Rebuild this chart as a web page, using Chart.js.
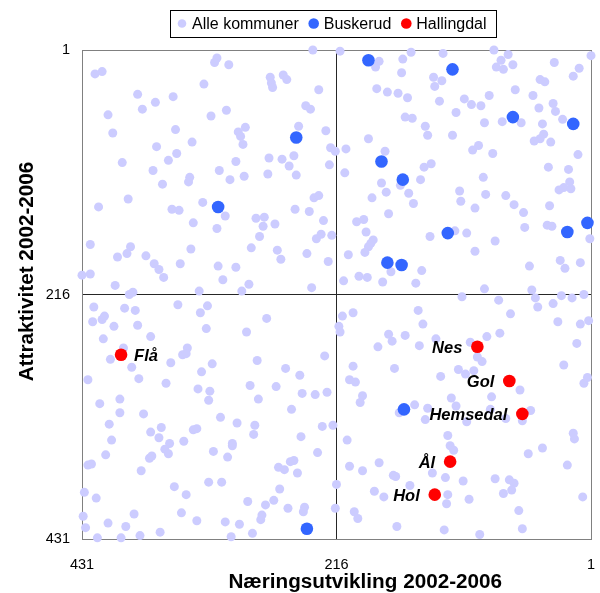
<!DOCTYPE html>
<html>
<head>
<meta charset="utf-8">
<script src="https://cdn.jsdelivr.net/npm/chart.js@4.4.1/dist/chart.umd.min.js"></script>
<style>
  html, body { margin: 0; padding: 0; background: #fff; }
  #wrap { width: 600px; height: 593px; }
</style>
</head>
<body>
<div id="wrap"><canvas id="chart" width="600" height="593"></canvas></div>
<script>
// rank 1..431, both axes reversed (best rank top/right)
const tickValues = [1, 216, 431];

// all municipalities (ranks, quadrant by quadrant)
const alleX = [
  236,317,319,307,420,414,272,271,270,261,258,328,231,384,354,369,380,322,309,409,
  242,238,405,352,299,293,297,295,248,225,338,368,351,358,397,221,217,273,262,252,
  256,222,301,315,371,340,341,363,306,294,274,250,392,417,329,355,349,310,235,231,
  251,239,284,277,278,268,227,337,317,281,229,233,220,424,390,401,393,377,339,288,
  266,263,241,223,370,366,362,348,316,301,312,431,424,403,391,388,332,290,296,237,
  213,153,160,180,183,161,126,83,71,77,81,75,67,32,1,11,16,44,40,134,
  127,133,182,173,164,156,129,108,102,94,87,65,50,45,33,31,25,115,158,152,
  141,139,118,91,76,60,42,41,44,49,35,189,208,175,96,101,84,12,209,142,
  136,37,20,92,145,178,162,174,155,186,151,112,111,90,99,73,66,58,57,28,
  24,19,18,36,38,34,172,199,193,191,185,187,189,192,206,137,116,106,82,99,
  2,53,27,23,10,170,144,197,190,210,177,149,91,51,110,79,48,26,17,7,
  421,395,386,350,325,331,422,414,412,404,384,413,373,326,275,292,396,407,389,342,
  346,343,356,321,330,283,226,426,383,360,333,323,324,289,282,267,259,247,245,234,
  224,416,399,399,379,408,406,411,426,423,373,364,366,357,361,358,374,372,381,345,
  337,334,314,300,285,286,304,304,320,308,254,246,228,219,232,255,252,265,260,249,
  324,313,353,343,429,419,264,269,276,291,257,243,244,216,217,430,428,409,394,387,
  418,398,382,365,347,334,310,298,305,287,280,279,
  46,33,211,202,214,213,147,143,69,78,89,29,10,3,13,172,169,158,181,146,
  132,103,97,93,202,205,200,167,128,113,107,100,24,7,4,61,85,194,196,119,
  115,150,139,163,141,106,86,73,52,59,207,122,120,117,16,15,42,54,21,205,
  194,180,168,166,135,124,109,82,70,66,68,75,154,184,176,122,123,104,8,201,
  198,62,165,125,95,59
];
const alleY = [
  1,8,12,14,22,20,25,30,34,23,27,31,36,40,42,47,53,59,54,58,
  50,53,74,71,73,69,77,84,68,72,82,86,92,98,100,87,90,96,97,94,
  103,102,99,107,107,113,117,119,115,112,110,111,132,139,135,141,142,147,131,129,
  141,143,149,148,156,154,151,153,158,165,163,167,164,172,174,183,180,182,176,175,
  177,185,180,187,189,194,201,189,191,192,203,199,198,208,216,214,213,207,213,210,
  2,3,9,11,16,21,4,1,5,10,16,18,14,12,6,17,24,27,29,25,
  28,33,35,38,39,43,46,44,49,50,41,36,41,52,48,55,62,56,60,61,
  68,76,76,65,64,65,66,75,79,81,82,79,88,90,85,89,92,93,109,104,
  101,104,106,113,115,118,120,126,127,131,136,125,134,128,140,129,137,144,157,124,
  122,117,123,138,155,156,145,152,150,161,168,171,174,179,181,165,160,162,169,178,
  167,191,186,193,188,196,195,200,201,204,205,206,211,212,218,221,219,217,219,216,
  227,228,230,225,226,232,240,238,235,244,243,255,253,246,237,249,263,273,280,263,
  269,268,276,277,284,274,270,291,290,294,299,301,309,296,308,297,281,287,303,304,
  302,312,308,320,321,330,344,357,366,365,337,333,342,347,352,356,360,358,371,345,
  335,334,324,329,331,339,347,349,354,359,317,341,332,331,355,363,362,368,370,373,
  381,381,385,392,390,395,387,397,401,398,404,403,407,383,404,411,421,417,420,409,
  430,430,428,425,408,415,416,418,429,426,414,410,
  227,224,235,232,244,249,230,242,233,250,253,240,242,239,259,251,257,252,262,261,
  255,258,271,275,279,291,293,281,288,282,286,283,278,294,289,300,306,305,311,307,
  314,313,316,320,326,328,317,325,318,327,344,340,349,353,338,343,351,356,366,367,
  371,364,375,376,373,377,380,378,379,382,388,391,384,389,394,392,400,396,394,407,
  413,406,420,423,427,422
];

const buskerudX = [250, 316, 189, 118, 67, 16, 178, 160, 122, 21, 4, 173, 161, 241, 159];
const buskerudY = [78, 139, 10, 18, 60, 66, 99, 115, 162, 161, 153, 188, 190, 422, 317];

const hallingdalNames = ['Flå', 'Nes', 'Gol', 'Hemsedal', 'Ål', 'Hol'];
const hallingdalX = [398, 97, 70, 59, 120, 133];
const hallingdalY = [269, 262, 292, 321, 363, 392];

const seriesLabels = ['Alle kommuner', 'Buskerud', 'Hallingdal'];
const seriesColors = ['#ccccff', '#3366ff', '#ff0000'];

const FONT = '"Liberation Sans", Arial, Helvetica, sans-serif';
Chart.defaults.font.family = FONT;
Chart.defaults.color = '#000';

const toPoints = (xs, ys) => xs.map((x, i) => ({ x: x, y: ys[i] }));
const midRank = tickValues[1];

// only the quadrant lines and the frame, no other grid
const gridColor = ctx => {
  const v = ctx.tick ? ctx.tick.value : null;
  if (v === midRank) return '#262626';
  if (v === tickValues[0] || v === tickValues[2]) return '#808080';
  return 'rgba(0,0,0,0)';
};

// framed legend on top, like the Excel original
const boxLegend = {
  id: 'boxLegend',
  afterDraw(chart, args, opts) {
    const ctx = chart.ctx;
    const area = chart.chartArea;
    ctx.save();
    ctx.font = '16px ' + FONT;
    const items = chart.data.datasets.map((ds, i) => ({
      text: ds.label, color: ds.pointBackgroundColor, r: opts.radii[i],
      w: ctx.measureText(ds.label).width
    }));
    let total = 14;
    items.forEach((it, i) => { total += 15 + it.w + (i < items.length - 1 ? 10 : 0); });
    total += 9 - 7;
    const left = Math.round((area.left + area.right) / 2 - 4 - total / 2);
    const top = 10, h = 27, cy = top + h / 2;

    ctx.strokeStyle = '#000';
    ctx.lineWidth = 1;
    ctx.strokeRect(left + 0.5, top + 0.5, Math.round(total), h);

    let cursor = left + 7;
    ctx.textBaseline = 'middle';
    ctx.textAlign = 'left';
    items.forEach(it => {
      ctx.beginPath();
      ctx.fillStyle = it.color;
      ctx.arc(cursor + 5, cy, it.r, 0, Math.PI * 2);
      ctx.fill();
      ctx.fillStyle = '#000';
      ctx.fillText(it.text, cursor + 15, cy + 1);
      cursor += 15 + it.w + 10;
    });
    ctx.restore();
  }
};

// municipality names next to the Hallingdal points
const nameLabels = {
  id: 'nameLabels',
  afterDatasetsDraw(chart) {
    const ctx = chart.ctx;
    const meta = chart.getDatasetMeta(2);
    ctx.save();
    ctx.font = 'italic bold 16.5px ' + FONT;
    ctx.fillStyle = '#000';
    ctx.textBaseline = 'middle';
    meta.data.forEach((pt, i) => {
      const onRight = hallingdalX[i] > midRank;
      ctx.textAlign = onRight ? 'left' : 'right';
      ctx.fillText(hallingdalNames[i], pt.x + (onRight ? 13 : -15), pt.y + 2);
    });
    ctx.restore();
  }
};

const tickFont = { size: 14.5 };
const titleFont = { size: 20.7, weight: 'bold', lineHeight: 1 };

new Chart(document.getElementById('chart'), {
  type: 'scatter',
  data: {
    datasets: [
      {
        label: seriesLabels[0],
        data: toPoints(alleX.concat(buskerudX, hallingdalX), alleY.concat(buskerudY, hallingdalY)),
        pointBackgroundColor: seriesColors[0],
        backgroundColor: seriesColors[0],
        pointBorderWidth: 0,
        pointRadius: 4.5,
        order: 3,
        clip: false
      },
      {
        label: seriesLabels[1],
        data: toPoints(buskerudX, buskerudY),
        pointBackgroundColor: seriesColors[1],
        backgroundColor: seriesColors[1],
        pointBorderWidth: 0,
        pointRadius: 6.3,
        order: 2,
        clip: false
      },
      {
        label: seriesLabels[2],
        data: toPoints(hallingdalX, hallingdalY),
        pointBackgroundColor: seriesColors[2],
        backgroundColor: seriesColors[2],
        pointBorderWidth: 0,
        pointRadius: 6.3,
        order: 1,
        clip: false
      }
    ]
  },
  options: {
    responsive: false,
    animation: false,
    events: [],
    layout: { padding: { top: 50, right: 9, bottom: 0, left: 0 } },
    plugins: {
      legend: { display: false },
      tooltip: { enabled: false },
      boxLegend: { radii: [4.3, 5.3, 5.3] }
    },
    scales: {
      x: {
        type: 'linear',
        min: 1,
        max: 431,
        reverse: true,
        afterBuildTicks: axis => { axis.ticks = tickValues.map(v => ({ value: v })); },
        afterFit: axis => { axis.height = 54; },
        grid: { color: gridColor, lineWidth: 1, drawTicks: false },
        border: { display: true, color: '#808080', width: 1 },
        ticks: { font: tickFont, padding: 17, maxRotation: 0, autoSkip: false, callback: v => String(v) },
        title: {
          display: true,
          text: '          Næringsutvikling 2002-2006',
          font: titleFont,
          padding: { top: 0, bottom: 0 }
        }
      },
      y: {
        type: 'linear',
        min: 1,
        max: 431,
        reverse: true,
        afterBuildTicks: axis => { axis.ticks = tickValues.map(v => ({ value: v })); },
        afterFit: axis => { axis.width = 82; },
        grid: { color: gridColor, lineWidth: 1, drawTicks: false },
        border: { display: true, color: '#808080', width: 1 },
        ticks: { font: tickFont, padding: 12, autoSkip: false, callback: v => String(v) },
        title: {
          display: true,
          text: '        Attraktivitet 2002-2006',
          font: titleFont,
          padding: { top: 16.6, bottom: 0 }
        }
      }
    }
  },
  plugins: [boxLegend, nameLabels]
});
</script>
</body>
</html>
